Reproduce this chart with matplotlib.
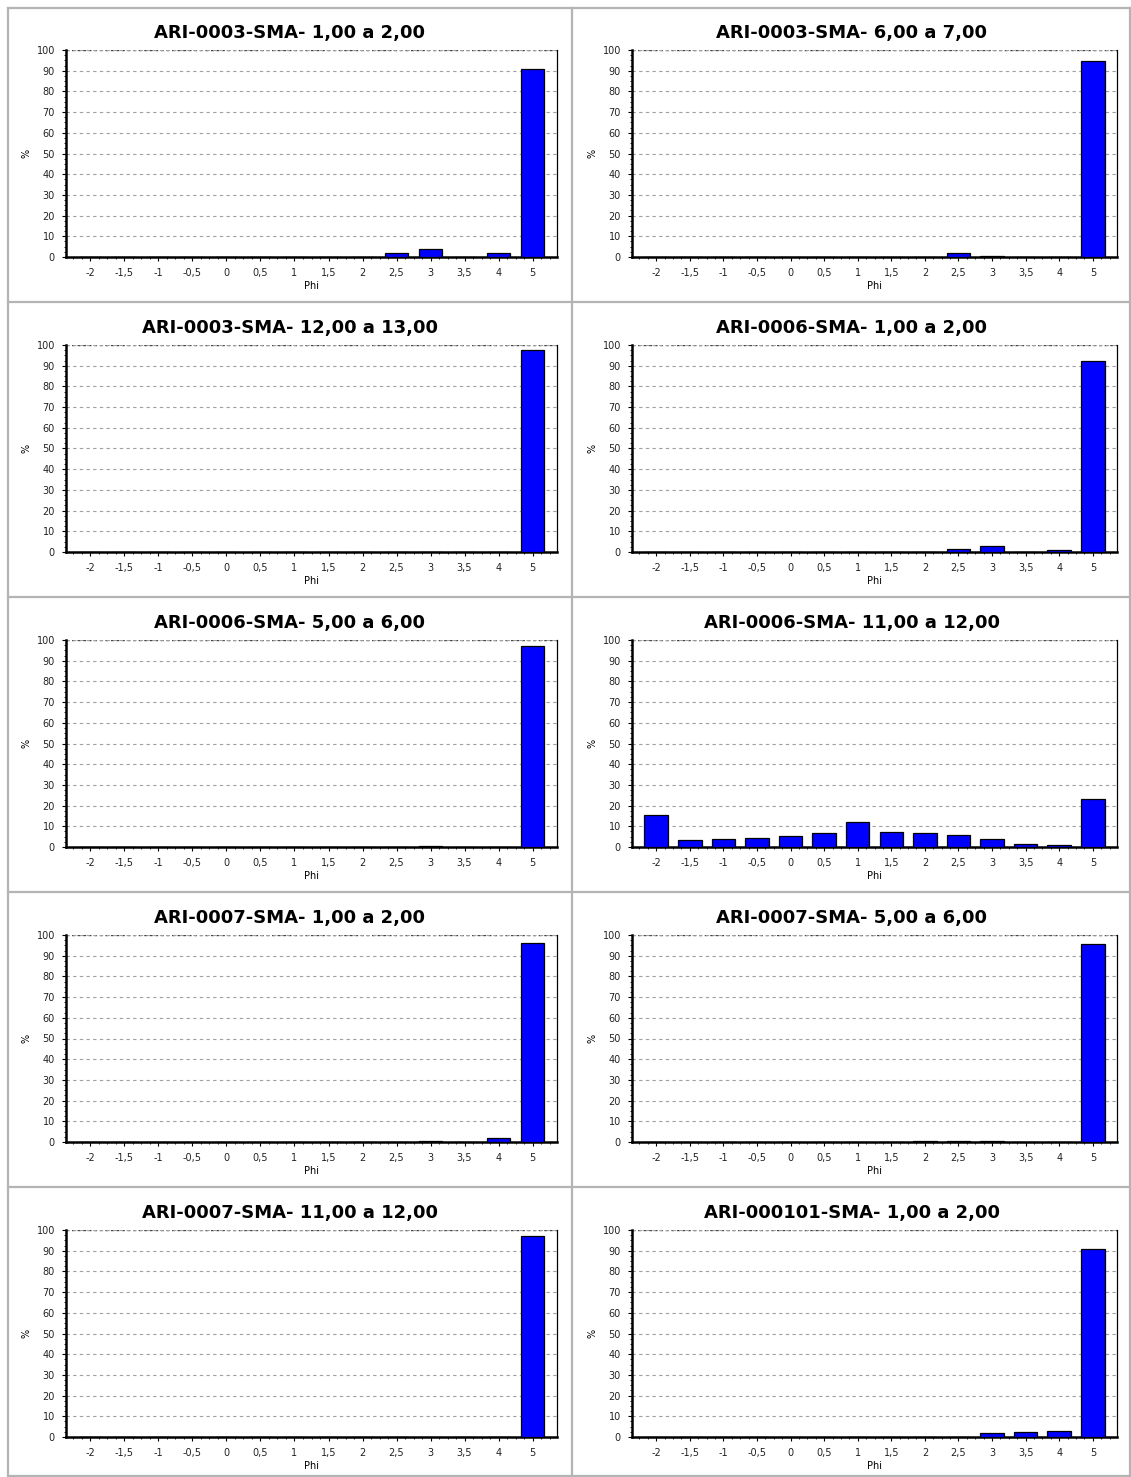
import numpy as np
import matplotlib.pyplot as plt
from matplotlib.lines import Line2D
from matplotlib.ticker import MultipleLocator

W, H = 1131, 1477

phi = ["-2", "-1,5", "-1", "-0,5", "0", "0,5", "1", "1,5", "2", "2,5", "3", "3,5", "4", "5"]

titles = [
    "ARI-0003-SMA- 1,00 a 2,00",
    "ARI-0003-SMA- 6,00 a 7,00",
    "ARI-0003-SMA- 12,00 a 13,00",
    "ARI-0006-SMA- 1,00 a 2,00",
    "ARI-0006-SMA- 5,00 a 6,00",
    "ARI-0006-SMA- 11,00 a 12,00",
    "ARI-0007-SMA- 1,00 a 2,00",
    "ARI-0007-SMA- 5,00 a 6,00",
    "ARI-0007-SMA- 11,00 a 12,00",
    "ARI-000101-SMA- 1,00 a 2,00",
]

# % retained per phi class, one list per sample
ari0003_1_2 = [0, 0, 0, 0, 0, 0, 0, 0, 0, 1.8, 3.7, 0, 1.8, 91]
ari0003_6_7 = [0, 0, 0, 0, 0, 0, 0, 0, 0, 1.8, 0.7, 0, 0, 94.5]
ari0003_12_13 = [0, 0, 0, 0, 0, 0, 0, 0, 0, 0, 0, 0, 0, 97.5]
ari0006_1_2 = [0, 0, 0, 0, 0, 0, 0, 0, 0, 1.5, 2.7, 0, 1.0, 92.5]
ari0006_5_6 = [0, 0, 0, 0, 0, 0, 0, 0, 0, 0, 0.5, 0, 0, 97]
ari0006_11_12 = [15.3, 3.3, 3.8, 4.3, 5.3, 6.7, 12, 7.2, 6.7, 5.7, 3.8, 1.3, 0.8, 23]
ari0007_1_2 = [0, 0, 0, 0, 0, 0, 0, 0, 0, 0, 0.5, 0, 1.8, 96]
ari0007_5_6 = [0, 0, 0, 0, 0, 0, 0, 0, 0.5, 0.5, 0.6, 0, 0, 95.5]
ari0007_11_12 = [0, 0, 0, 0, 0, 0, 0, 0, 0, 0, 0, 0, 0, 97]
ari000101_1_2 = [0, 0, 0, 0, 0, 0, 0, 0, 0, 0, 1.7, 2.3, 2.9, 91]

samples = [ari0003_1_2, ari0003_6_7, ari0003_12_13, ari0006_1_2, ari0006_5_6,
           ari0006_11_12, ari0007_1_2, ari0007_5_6, ari0007_11_12, ari000101_1_2]

fig = plt.figure(figsize=(W / 100, H / 100), dpi=100)
fig.patch.set_facecolor("white")


def px_rect(x0, y0, x1, y1):
    # pixel box (top-left origin) -> figure fraction rect
    return [x0 / W, 1 - y1 / H, (x1 - x0) / W, (y1 - y0) / H]


x = np.arange(len(phi))
for i, (title, vals) in enumerate(zip(titles, samples)):
    row, col = divmod(i, 2)
    x0, x1 = (66, 557) if col == 0 else (632, 1117)
    y0 = 50 + 295 * row
    ax = fig.add_axes(px_rect(x0, y0, x1, y0 + 207))
    ax.bar(x, vals, width=0.7, color="#0000ff", edgecolor="black", linewidth=0.9, zorder=3)
    ax.set_xlim(-0.72, len(phi) - 0.28)
    ax.set_ylim(0, 100)
    ax.set_xticks(x)
    ax.set_xticklabels(phi)
    ax.xaxis.set_minor_locator(MultipleLocator(0.25))
    ax.yaxis.set_major_locator(MultipleLocator(10))
    ax.yaxis.set_minor_locator(MultipleLocator(2.5))
    ax.tick_params(which="major", length=3, width=0.8, labelsize=7, colors="black",
                   labelcolor="#222222", pad=5)
    ax.tick_params(which="minor", length=1.5, width=0.6)
    ax.grid(axis="y", color="#a0a0a0", linestyle=(0, (3, 3)), linewidth=0.8, zorder=0)
    ax.axhline(100, color="#444444", linestyle=(0, (2, 2)), linewidth=1.0, zorder=1)
    ax.spines["top"].set_visible(False)
    ax.spines["left"].set_linewidth(1.8)
    ax.spines["bottom"].set_linewidth(1.8)
    ax.spines["right"].set_linewidth(0.9)
    ax.set_xlabel("Phi", fontsize=7, labelpad=2)
    ax.set_ylabel("%", fontsize=7)
    ax.yaxis.set_label_coords(-34 / (x1 - x0), 0.5)

    # title centred over the whole cell
    cx = (8 + 572) / 2 if col == 0 else (572 + 1131) / 2
    fig.text(cx / W, 1 - (33 + 295 * row) / H, title, ha="center", va="center",
             fontsize=13, fontweight="heavy")

# cell frames
grid_color = "#b4b4b4"
for xv in (8, 572, 1130):
    fig.add_artist(Line2D([xv / W, xv / W], [1 - 8 / H, 0], color=grid_color, linewidth=1.6))
for yv in (8, 302, 597, 892, 1187, 1476):
    fig.add_artist(Line2D([8 / W, 1130 / W], [1 - yv / H, 1 - yv / H], color=grid_color, linewidth=1.6))

fig.savefig("out.png", dpi=100)
